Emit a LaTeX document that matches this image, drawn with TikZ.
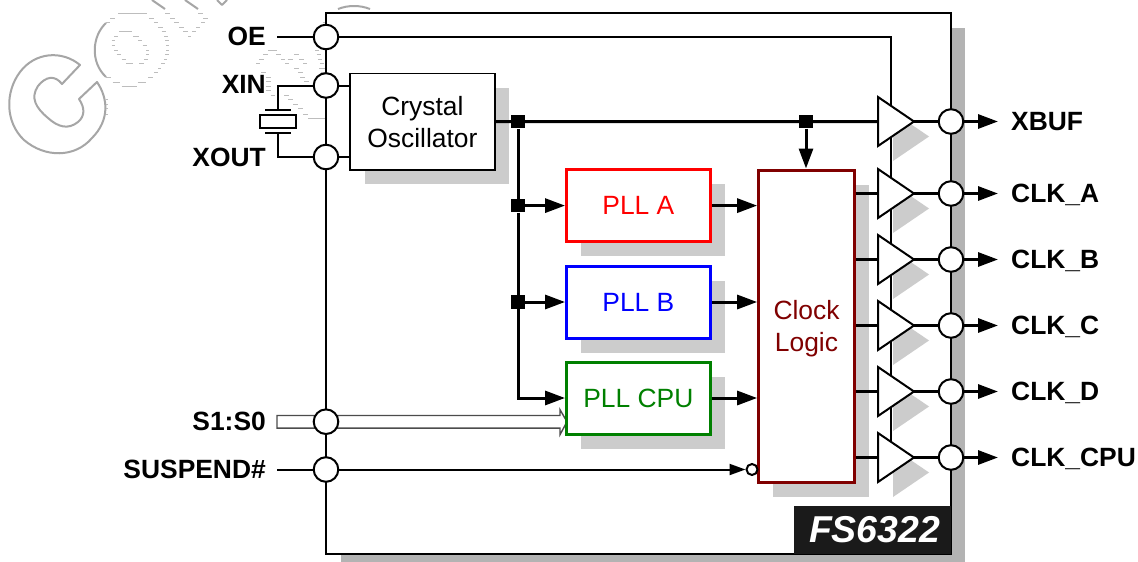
\documentclass[tikz,border=0pt]{standalone}
\usepackage{fontspec}
\setmainfont{Liberation Sans}
\usetikzlibrary{arrows.meta,shadows,calc}
\definecolor{mainshade}{HTML}{B3B3B3}
\definecolor{blockshade}{HTML}{CCCCCC}
\definecolor{wmark}{HTML}{A6A6A6}
\definecolor{wmlight}{HTML}{BDBDBD}
\definecolor{logicred}{HTML}{800000}
\definecolor{pllgreen}{HTML}{008000}
\definecolor{tagblack}{HTML}{1A1A1A}
\tikzset{
  pinlabel/.style={font=\fontsize{26.4}{30}\selectfont\bfseries,inner sep=0pt},
  blocktext/.style={font=\fontsize{26.4}{32}\selectfont,align=center},
  blockbox/.style={draw,fill=white,line width=3pt,inner sep=0pt,rectangle,
    general shadow={fill=blockshade,shadow xshift=14.6pt,shadow yshift=-14.6pt}},
  pin/.style={circle,draw,fill=white,line width=2pt,minimum size=24.6pt,inner sep=0pt},
  junction/.style={rectangle,fill=black,minimum size=13.5pt,inner sep=0pt},
  wire/.style={line width=2pt},
  bus/.style={line width=3pt},
  arr/.style={-{Triangle[length=20pt,width=14pt]}},
  smallarr/.style={-{Triangle[length=16pt,width=11pt]}},
  wm/.style={wmlight,line width=0.5pt},
  wmthick/.style={wmark,line width=2pt,line join=round},
  buftri/.style={draw=black,fill=white,line width=2pt,line join=miter},
}
\begin{document}
\begin{tikzpicture}[x=1pt,y=-1pt]
\useasboundingbox[fill=white] (0,0) rectangle (1138,562);
% watermark
\draw[wmthick] (80,65) .. controls (62,50) and (35,52) .. (20,72)
  .. controls (5,92) and (5,122) .. (24,140)
  .. controls (45,158) and (75,158) .. (92,138)
  .. controls (110,120) and (108,98) .. (97,82)
  -- (79,99) .. controls (85,108) and (85,116) .. (78,122)
  .. controls (68,130) and (58,127) .. (48,118)
  .. controls (36,108) and (30,98) .. (38,86)
  .. controls (46,76) and (55,75) .. (62,84) -- cycle;
\draw[wmthick] (106,23) .. controls (92,36) and (90,62) .. (106,77);
\draw[wmthick] (152,0) -- (165,9);
\draw[wmthick] (185,0) -- (198,9);
\draw[wmthick] (217,0) -- (222,5) -- (227,0);
\draw[wmthick] (338,9) .. controls (348,5) and (360,5) .. (370,9);
\foreach \a/\b/\c in {85/170/40,60/75/55,48/60/68,178/192/55,192/205/67,205/218/82,215/227/95,222/233/108,226/236/122,228/238/135,228/238/150,226/236/163,222/232/177,213/225/190,204/214/205,192/204/217,175/188/232,48/62/232,68/90/247,143/168/247,95/140/260,87/127/94,72/83/108,130/146/108,65/76/122,145/157/122,65/76/135,158/170/135,72/83/150,168/178/150,80/92/163,168/178/163,95/107/178,163/173/178,108/128/190,148/163/190,225/240/40,240/254/55,252/266/67,267/282/82,280/293/95,295/303/108,307/318/95,318/330/82,333/345/67,340/353/55,325/338/40}
  \draw[wm] ({90+\a/3},{\c/3}) -- ({90+\b/3},{\c/3});
\foreach \a/\b/\c in {205/230/150,190/205/163,228/243/163,282/297/163,345/358/150,350/362/163,178/192/178,243/255/178,263/280/178,298/312/178,355/365/178,168/180/190,255/268/190,310/322/190,360/372/190,283/298/205,358/375/205,183/198/217,295/310/217,362/375/217,197/212/232,300/315/232,197/212/245,312/328/245,197/212/258,197/212/272,212/226/287,252/268/287,265/280/298,280/295/312,295/308/325,310/325/342,325/375/355,368/378/68}
  \draw[wm] ({200+\a/3},{\c/3}) -- ({200+\b/3},{\c/3});
\foreach \c in {99,104,108,114}
  \draw[wm] (105.5,\c) -- (108,\c);

% main outline and part tag
\node[draw,fill=white,line width=2pt,rectangle,inner sep=0pt,minimum width=624.5pt,minimum height=541pt,
  general shadow={fill=mainshade,shadow xshift=14.5pt,shadow yshift=-14.5pt}] (main) at (638.25,283.5) {};
\node[fill=tagblack,rectangle,inner sep=0pt,minimum width=157pt,minimum height=48pt] (tag) at (872.5,530) {};
\node[text=white,inner sep=0pt,font=\fontsize{37.4}{40}\selectfont\bfseries\itshape] (tagtext) at (874.5,530) {FS6322};

% free ends
\coordinate (oeL) at (277,37);
\coordinate (oeC) at (891,37);
\coordinate (oeE) at (891,445);
\coordinate (susL) at (277,469.5);
\coordinate (xtalA) at (277.5,85.5);
\coordinate (xtalB) at (277.5,157);
\coordinate (plateA) at (277.5,109.5);
\coordinate (plateB) at (277.5,133.3);
\coordinate (busL) at (277,421.7);

% S1:S0 hollow bus
\draw[line width=1.4pt,draw=black!70,fill=white,line join=miter]
  ($(busL)+(0,-6.2)$) -- ($(busL)+(283,-6.2)$) -- ($(busL)+(283,-12)$) -- ($(busL)+(290,0)$)
  -- ($(busL)+(283,13)$) -- ($(busL)+(283,6.4)$) -- ($(busL)+(0,6.4)$) -- cycle;

% pins
\node[pin] (oe) at (326,37) {};
\node[pin] (xin) at (326,85.5) {};
\node[pin] (xout) at (326,157) {};
\node[pin] (s1) at (326,421.7) {};
\node[pin] (sus) at (326,469.5) {};
\node[pin] (pxbuf) at (951,121.5) {};
\node[pin] (pa) at (951,193.5) {};
\node[pin] (pb) at (951,259.5) {};
\node[pin] (pc) at (951,325.5) {};
\node[pin] (pd) at (951,391.5) {};
\node[pin] (pcpu) at (951,457.5) {};

% pin labels
\node[pinlabel,anchor=base east] (loe) at (266,45) {OE};
\node[pinlabel,anchor=base east] (lxin) at (266,93.5) {XIN};
\node[pinlabel,anchor=base east] (lxout) at (266,166) {XOUT};
\node[pinlabel,anchor=base east] (ls1) at (266,430) {S1:S0};
\node[pinlabel,anchor=base east] (lsus) at (266,478) {SUSPEND\#};
\node[pinlabel,anchor=base west] (lxbuf) at (1011,130) {XBUF};
\node[pinlabel,anchor=base west] (la) at (1011,202) {CLK\_A};
\node[pinlabel,anchor=base west] (lb) at (1011,268) {CLK\_B};
\node[pinlabel,anchor=base west] (lc) at (1011,334) {CLK\_C};
\node[pinlabel,anchor=base west] (ld) at (1011,400) {CLK\_D};
\node[pinlabel,anchor=base west] (lcpu) at (1011,466) {CLK\_CPU};

% blocks
\node[blockbox,line width=1.8pt,blocktext,minimum width=144.4pt,minimum height=96.2pt] (osc) at (422.4,121.6) {Crystal\\Oscillator};
\node[blockbox,blocktext,draw=red,text=red,minimum width=143.7pt,minimum height=72pt] (plla) at (638.4,205.6) {PLL A};
\node[blockbox,blocktext,draw=blue,text=blue,minimum width=143.7pt,minimum height=72pt] (pllb) at (638.4,302) {PLL B};
\node[blockbox,blocktext,draw=pllgreen,text=pllgreen,minimum width=143.7pt,minimum height=72pt] (pllc) at (638.4,398) {PLL CPU};
\node[blockbox,blocktext,draw=logicred,text=logicred,minimum width=95.7pt,minimum height=312.5pt] (logic) at (806.5,326.25) {\rule{0pt}{23pt}Clock\\Logic};

% OE line behind buffers
\draw[wire] (oeL) -- (oe);
\draw[wire] (oe) -- (oeC) -- (oeE);

% buffers
\foreach \n/\yy in {xb/121.5,a/193.5,b/259.5,c/325.5,d/391.5,e/457.5}{
  \coordinate (t\n-in) at (878,\yy);
  \coordinate (t\n-out) at (914,\yy);
  \fill[blockshade] (893,\yy-9.5) -- (929,\yy+15) -- (893,\yy+39.5) -- cycle;
  \draw[buftri] (878,\yy-24.5) -- (914,\yy) -- (878,\yy+24.5) -- cycle;
}

% crystal
\draw[wire] (xin) -- (xtalA) -- (plateA);
\draw[wire] (xout) -- (xtalB) -- (plateB);
\draw[wire] ($(plateA)+(-12.5,0)$) -- ($(plateA)+(13,0)$);
\draw[wire] ($(plateB)+(-12.5,0)$) -- ($(plateB)+(13,0)$);
\node[draw,rectangle,line width=2pt,fill=white,inner sep=0pt,minimum width=36pt,minimum height=12.8pt] (xtal) at (278,121.6) {};
\draw[wire] (xin) -- (xin -| osc.west);
\draw[wire] (xout) -- (xout -| osc.west);

% junctions
\node[junction] (j1) at (518,121.6) {};
\node[junction] (j2) at (806,121.6) {};
\node[junction] (j3) at (518,205.6) {};
\node[junction] (j4) at (518,302) {};
\coordinate (jc) at (518,398);

% buses
\draw[bus] (osc.east |- j1) -- (j1) -- (j2) -- (txb-in);
\draw[bus] (j1) -- (j3);
\draw[bus] (j3) -- (j4);
\draw[bus,arr] (j4.center) -- (jc) -- (pllc.west);
\draw[bus,arr] (j2) -- (j2 |- logic.north);
\draw[bus,arr] (j3) -- (plla.west);
\draw[bus,arr] (j4) -- (pllb.west);
\draw[bus,arr] (plla.east) -- (plla.east -| logic.west);
\draw[bus,arr] (pllb.east) -- (pllb.east -| logic.west);
\draw[bus,arr] (pllc.east) -- (pllc.east -| logic.west);

% logic to buffers, buffers to pins, pins to outputs
\foreach \n/\p in {a/pa,b/pb,c/pc,d/pd,e/pcpu}{
  \draw[bus] (logic.east |- t\n-in) -- (t\n-in);
  \draw[bus] (t\n-out) -- (\p);
}
\draw[bus] (txb-out) -- (pxbuf);
\foreach \p in {pxbuf,pa,pb,pc,pd,pcpu}{
  \coordinate (end\p) at ($(\p)+(47,0)$);
  \draw[bus,arr] (\p) -- (end\p);
}

% suspend
\node[circle,draw,fill=white,line width=2pt,minimum size=11pt,inner sep=0pt] (inv) at (752,469.5) {};
\draw[wire] (susL) -- (sus);
\draw[wire,smallarr] (sus) -- (inv);
\end{tikzpicture}
\end{document}
